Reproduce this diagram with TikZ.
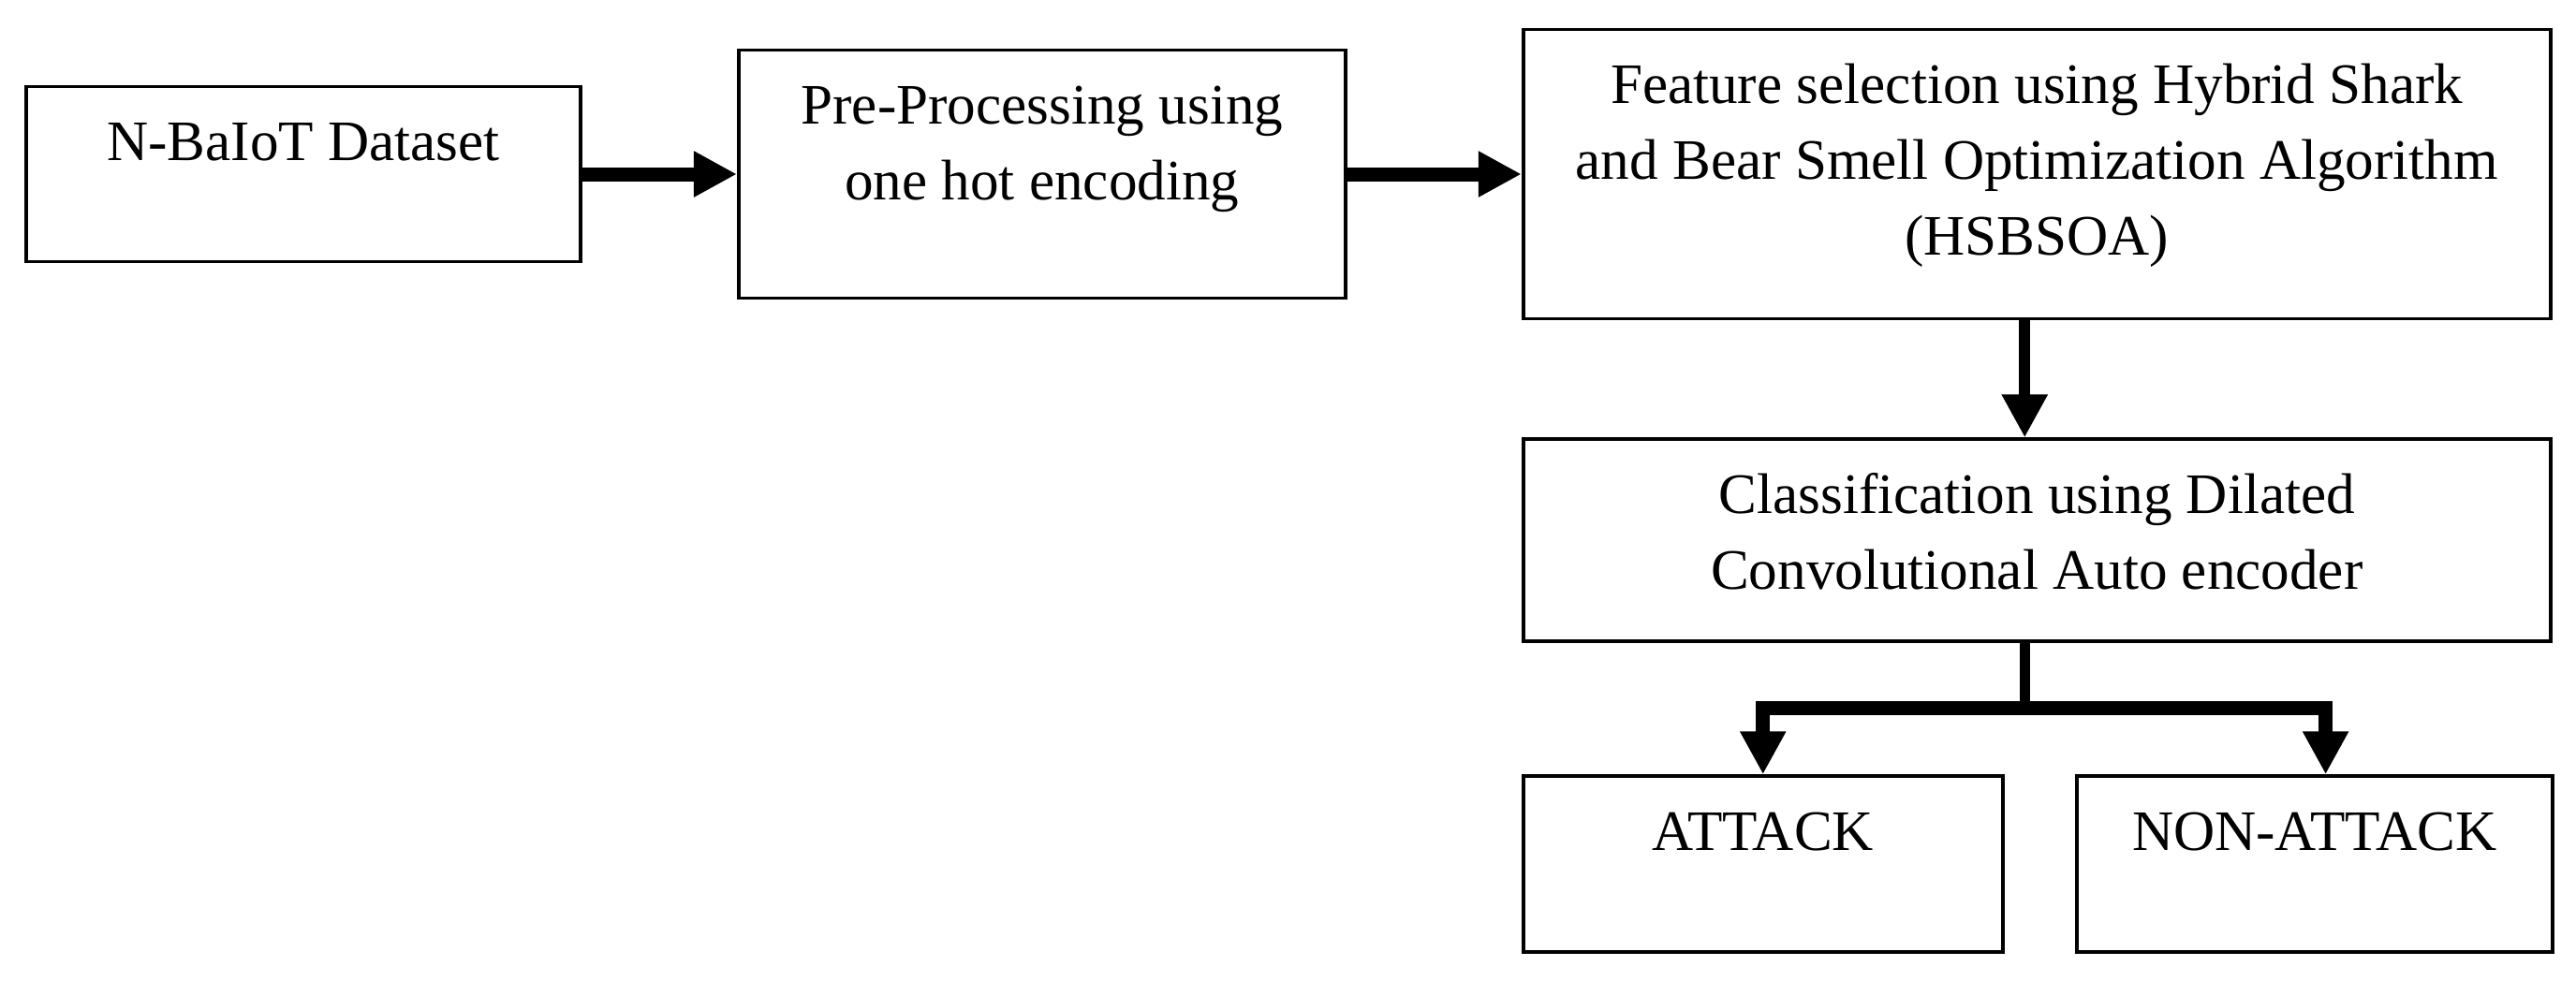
\documentclass[tikz,border=0pt]{standalone}
\usepackage{fontspec}
\setmainfont{Liberation Serif}
\usetikzlibrary{shapes, arrows.meta, positioning}
\tikzstyle{block} = [rectangle, draw=black, line width=1.1pt, align=center, font=\fontsize{17.4}{23}\selectfont, inner xsep=2mm, inner ysep=0pt, text height=7.9mm]
\tikzstyle{arrow} = [-{Triangle[length=4.6mm, width=4.6mm]}, line width=1.5mm]

\begin{document}
\begin{tikzpicture}[node distance=1.65cm]
\useasboundingbox (0,0) rectangle (27.51,-10.47);
\node (data) [block, minimum width=5.92cm, text depth=10.8mm] at (3.24,-1.86) {N-BaIoT Dataset};
\node (prep) [block, right=1.65cm of data, minimum width=6.48cm, text height=15.98mm, text depth=10.52mm] {Pre-Processing using\\one hot encoding};
\node (feat) [block, right=1.86cm of prep, minimum width=10.97cm, text height=24.06mm, text depth=6.84mm] {Feature selection using Hybrid Shark\\and Bear Smell Optimization Algorithm\\(HSBSOA)};
\node (cls) [block, below=1.25cm of feat, minimum width=10.97cm, text height=15.98mm, text depth=5.62mm] {Classification using Dilated\\Convolutional Auto encoder};
\node (attack) [block, below=1.4cm of cls.south west, anchor=north west, minimum width=5.12cm, text depth=10.9mm] {ATTACK};
\node (nonattack) [block, right=0.75cm of attack, minimum width=5.08cm, text depth=10.9mm] {NON-ATTACK};
\draw [arrow] (data) -- (prep);
\draw [arrow] (prep) -- (feat);
\draw [arrow, line width=1.2mm] ([xshift=-1.3mm]feat.south) -- ([xshift=-1.3mm]cls.north);
\draw [line width=1.1mm] ([xshift=-1.3mm]cls.south) -- ++(0,-0.69) coordinate (split);
\draw [arrow] (split) -| (attack.north);
\draw [arrow] (split) -| ([xshift=1.2mm]nonattack.north);
\end{tikzpicture}
\end{document}
